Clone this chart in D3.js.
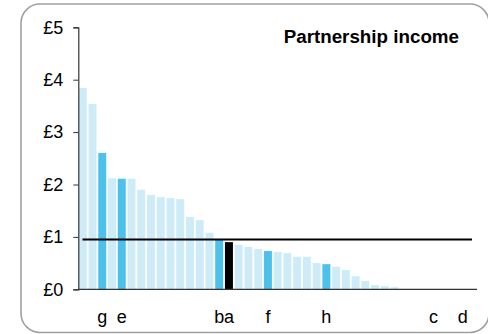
<!DOCTYPE html>
<html>
<head>
<meta charset="utf-8">
<script src="https://cdn.jsdelivr.net/npm/d3@7"></script>
<style>
  html, body { margin: 0; padding: 0; background: #fff; }
  svg { display: block; }
  text { font-family: "Liberation Sans", Arial, sans-serif; fill: #000; }
</style>
</head>
<body>
<svg id="chart" width="488" height="334"></svg>
<script>
// Partnership income per unit, sorted high to low
const values = [3.84, 3.54, 2.60, 2.12, 2.11, 2.11, 1.90, 1.80, 1.76, 1.74, 1.72, 1.38, 1.32, 1.08,
  0.96, 0.90, 0.85, 0.81, 0.77, 0.73, 0.71, 0.69, 0.62, 0.62, 0.50, 0.48, 0.43, 0.37, 0.25, 0.16,
  0.08, 0.06, 0.04, 0, 0, 0, 0, 0, 0, 0, 0];
// Labels for the highlighted entries (blank for the rest)
const labels = ["", "", "g", "", "e", "", "", "", "", "", "", "", "", "",
  "b", "a", "", "", "", "f", "", "", "", "", "", "h", "", "", "", "",
  "", "", "", "", "", "", "c", "", "", "d", ""];
// Bar type: 0 = other, 1 = highlighted, 2 = selected
const kinds = [0, 0, 1, 0, 1, 0, 0, 0, 0, 0, 0, 0, 0, 0,
  1, 2, 0, 0, 0, 1, 0, 0, 0, 0, 0, 1, 0, 0, 0, 0,
  0, 0, 0, 0, 0, 0, 0, 0, 0, 0, 0];
const average = 0.95;
const yTicks = [0, 1, 2, 3, 4, 5];
const title = "Partnership income";

const colors = ["#cdecf8", "#4bc1eb", "#000000"];

const svg = d3.select("#chart");

// Rounded frame
svg.append("rect")
  .attr("x", 21).attr("y", 4)
  .attr("width", 468).attr("height", 328.5)
  .attr("rx", 19).attr("ry", 19)
  .attr("fill", "none")
  .attr("stroke", "#a0a0a0")
  .attr("stroke-width", 1.6);

const x = d3.scaleBand()
  .domain(d3.range(values.length))
  .range([78.3, 477])
  .paddingInner(0.18)
  .paddingOuter(0.05);

const y = d3.scaleLinear().domain([0, 5]).range([289.3, 27.3]);

// Bars
svg.append("g")
  .selectAll("rect")
  .data(values)
  .join("rect")
  .attr("x", (d, i) => x(i))
  .attr("y", d => y(d))
  .attr("width", x.bandwidth())
  .attr("height", d => y(0) - y(d))
  .attr("fill", (d, i) => colors[kinds[i]]);

// Average line
svg.append("line")
  .attr("x1", 82.5).attr("x2", 472)
  .attr("y1", y(average)).attr("y2", y(average))
  .attr("stroke", "#000")
  .attr("stroke-width", 2);

// Y axis
const yAxis = d3.axisLeft(y)
  .tickValues(yTicks)
  .tickFormat(d => "£" + d)
  .tickSize(5)
  .tickPadding(10);

const gy = svg.append("g")
  .attr("transform", "translate(78.3,0)")
  .call(yAxis);
gy.select(".domain").attr("stroke", "#333").attr("stroke-width", 1.2);
gy.selectAll(".tick line").attr("stroke", "#333");
gy.selectAll(".tick text")
  .attr("font-size", 18)
  .attr("font-family", "Liberation Sans, Arial, sans-serif")
  .attr("fill", "#000");

// X axis baseline
svg.append("line")
  .attr("x1", 78.3).attr("x2", 477)
  .attr("y1", y(0)).attr("y2", y(0))
  .attr("stroke", "#333")
  .attr("stroke-width", 1.2);

// Category labels
svg.append("g")
  .selectAll("text")
  .data(labels)
  .join("text")
  .attr("x", (d, i) => x(i) + x.bandwidth() / 2)
  .attr("y", 323)
  .attr("text-anchor", "middle")
  .attr("font-size", 18)
  .text(d => d);

// Title
svg.append("text")
  .attr("x", 459)
  .attr("y", 43)
  .attr("text-anchor", "end")
  .attr("font-size", 18.8)
  .attr("font-weight", "bold")
  .text(title);
</script>
</body>
</html>
